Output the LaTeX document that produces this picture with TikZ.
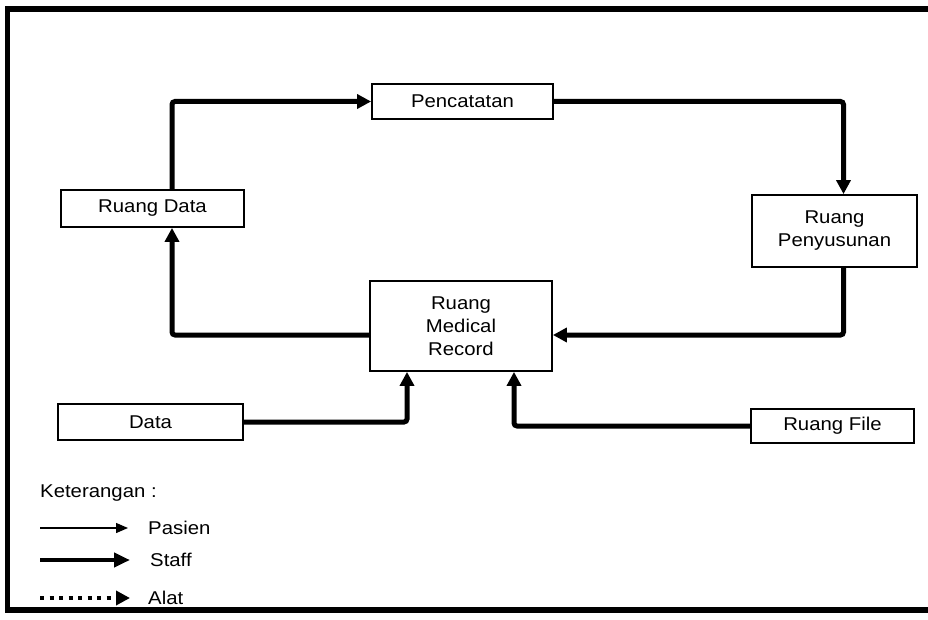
\documentclass[tikz,border=0pt]{standalone}
\usepackage{fontspec}
\setmainfont{Liberation Sans}[FakeStretch=1.1]
\usetikzlibrary{arrows.meta}

\tikzset{
  room/.style={draw, line width=1.8pt, inner sep=0pt, align=center,
    font=\fontsize{18.5}{23}\selectfont},
  staff/.style={line width=5pt, rounded corners=3pt,
    -{Triangle[length=14pt,width=14pt]}},
  pasien/.style={line width=1.3pt, -{Triangle[length=12pt,width=10pt]}},
  staffkey/.style={line width=4pt, -{Triangle[length=16pt,width=14pt]}},
  alat/.style={line width=4.5pt, dash pattern=on 4pt off 5.5pt,
    -{Triangle[length=14pt,width=14pt]}},
  keytext/.style={anchor=west, inner sep=0pt,
    font=\fontsize{18.5}{23}\selectfont},
  frame/.style={line width=5.5pt}
}

\begin{document}
\begin{tikzpicture}[x=1pt,y=-1pt]
  \useasboundingbox (0,0) rectangle (928,620);

  % outer frame (open on the right)
  \draw[frame] (928,9) -- (7.5,9) -- (7.5,610) -- (928,610);

  % rooms
  \node[room, minimum width=181pt, minimum height=35pt] (penc) at (462.5,101.5) {Pencatatan};
  \node[room, minimum width=183pt, minimum height=37pt] (rdata) at (152.5,208.5) {Ruang Data};
  \node[room, minimum width=165pt, minimum height=72pt] (rpen) at (834.5,231) {Ruang\\Penyusunan};
  \node[room, minimum width=182pt, minimum height=90pt] (mr) at (461,326) {Ruang\\Medical\\Record};
  \node[room, minimum width=185pt, minimum height=36pt] (data) at (150.5,422) {Data};
  \node[room, minimum width=163pt, minimum height=34pt] (rfile) at (832.5,426) {Ruang File};

  % routing guides
  \coordinate (gl) at (172,0);
  \coordinate (gr) at (843.5,0);
  \coordinate (gm) at (0,335);
  \coordinate (gd) at (407,0);
  \coordinate (gf) at (514,0);

  % staff flow
  \draw[staff] (rdata.north -| gl) |- (penc.west);
  \draw[staff] (penc.east) -| (rpen.north -| gr);
  \draw[staff] (rpen.south -| gr) |- (mr.east |- gm);
  \draw[staff] (mr.west |- gm) -| (rdata.south -| gl);
  \draw[staff] (data.east) -| (mr.south -| gd);
  \draw[staff] (rfile.west) -| (mr.south -| gf);

  % legend
  \node[keytext] (ket) at (40,493) {Keterangan :};
  \coordinate (p0) at (40,528);  \coordinate (p1) at (128,528);
  \coordinate (s0) at (40,560);  \coordinate (s1) at (130,560);
  \coordinate (a0) at (40,598);  \coordinate (a1) at (130,598);
  \draw[pasien] (p0) -- (p1);
  \draw[staffkey] (s0) -- (s1);
  \draw[alat] (a0) -- (a1);
  \node[keytext] (lp) at (148,528) {Pasien};
  \node[keytext] (ls) at (150,560) {Staff};
  \node[keytext] (la) at (148,598) {Alat};
\end{tikzpicture}
\end{document}
